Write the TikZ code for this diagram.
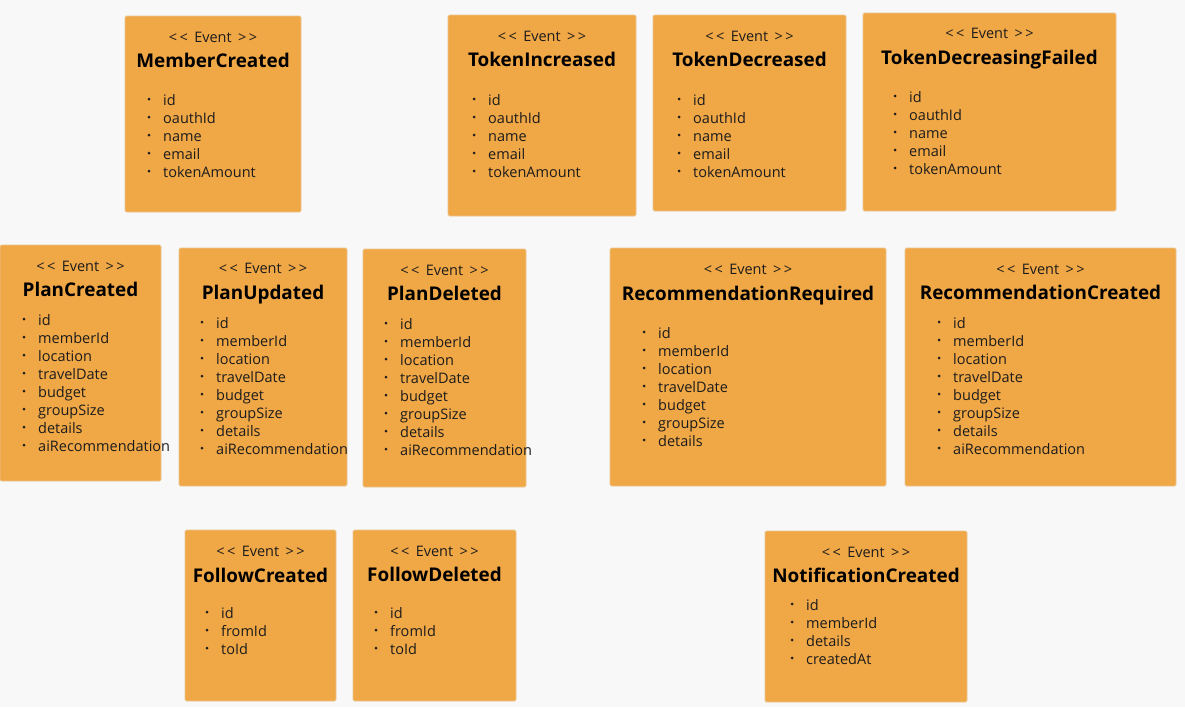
\documentclass[tikz,border=0pt]{standalone}
\usepackage{fontspec}
\setmainfont{Open Sans}
\usetikzlibrary{fit}
\definecolor{bgc}{HTML}{F8F8F8}
\definecolor{boxfill}{HTML}{F0A746}
\definecolor{boxline}{HTML}{E8C48F}
\definecolor{txt}{HTML}{1C1C1C}
\tikzset{
  evrect/.style={rectangle, fill=boxfill, draw=boxline, line width=0.8pt, inner sep=0pt, rounded corners=1.5pt},
  evlabel/.style={anchor=mid, inner sep=0pt, yshift=-3.5pt, text=txt, font=\fontsize{14.5}{15}\selectfont},
  evtitle/.style={anchor=mid, inner sep=0pt, yshift=-3.5pt, text=black, font=\fontsize{18.9}{20}\bfseries\selectfont},
  evitem/.style={anchor=mid west, inner sep=0pt, yshift=-3.5pt, text=txt, font=\fontsize{14.5}{16}\selectfont},
  bulletdot/.style={circle, fill=txt, inner sep=0pt, minimum size=3pt}
}
% name, x1, y1, x2, y2, event y, title y, title
\newcommand\evbox[8]{%
  \coordinate (#1-nw) at (#2,#3);
  \coordinate (#1-se) at (#4,#5);
  \node[evrect, fit=(#1-nw)(#1-se)] (#1) {};
  \node[evlabel] (#1-ev) at ({(#2+#4)/2},#6) {<\kern2.5pt<\hspace{2.5pt} Event\hspace{2.5pt} >\kern2.5pt>};
  \node[evtitle] (#1-title) at ({(#2+#4)/2},#7) {#8};
}
% name, bullet x, first y, list
\newcommand\evitems[4]{%
  \foreach \itm [count=\i from 0] in {#4} {
    \node[bulletdot] (#1-b\i) at (#2,{#3+18*\i}) {};
    \node[evitem] (#1-i\i) at ({#2+14},{#3+18*\i}) {\itm};
  }
}
\begin{document}
\begin{tikzpicture}[x=1pt,y=-1pt]
\fill[bgc] (0,0) rectangle (1185,707);
\useasboundingbox (0,0) rectangle (1185,707);

\evbox{mc}{125}{16}{301}{212}{36}{61}{MemberCreated}
\evitems{mc}{149}{99}{id,oauthId,name,email,tokenAmount}

\evbox{ti}{448}{15}{636}{216}{35}{60}{TokenIncreased}
\evitems{ti}{474}{99}{id,oauthId,name,email,tokenAmount}

\evbox{td}{653}{15}{846}{211}{35}{60}{TokenDecreased}
\evitems{td}{679}{99}{id,oauthId,name,email,tokenAmount}

\evbox{tdf}{863}{13}{1116}{211}{32}{58}{TokenDecreasingFailed}
\evitems{tdf}{895}{96}{id,oauthId,name,email,tokenAmount}

\evbox{pc}{0}{245}{161}{481}{265}{290}{PlanCreated}
\evitems{pc}{24}{319}{id,memberId,location,travelDate,budget,groupSize,details,aiRecommendation}

\evbox{pu}{179}{248}{347}{486}{267}{293}{PlanUpdated}
\evitems{pu}{202}{322}{id,memberId,location,travelDate,budget,groupSize,details,aiRecommendation}

\evbox{pd}{363}{249}{526}{487}{269}{294}{PlanDeleted}
\evitems{pd}{386}{323}{id,memberId,location,travelDate,budget,groupSize,details,aiRecommendation}

\evbox{rr}{610}{248}{886}{486}{268}{294}{RecommendationRequired}
\evitems{rr}{644}{332}{id,memberId,location,travelDate,budget,groupSize,details}

\evbox{rc}{905}{248}{1176}{486}{268}{293}{RecommendationCreated}
\evitems{rc}{939}{322}{id,memberId,location,travelDate,budget,groupSize,details,aiRecommendation}

\evbox{fc}{185}{530}{336}{701}{550}{576}{FollowCreated}
\evitems{fc}{207}{612}{id,fromId,toId}

\evbox{fd}{353}{530}{516}{701}{550}{575}{FollowDeleted}
\evitems{fd}{376}{612}{id,fromId,toId}

\evbox{nc}{765}{531}{967}{702}{551}{576}{NotificationCreated}
\evitems{nc}{792}{604}{id,memberId,details,createdAt}
\end{tikzpicture}
\end{document}
